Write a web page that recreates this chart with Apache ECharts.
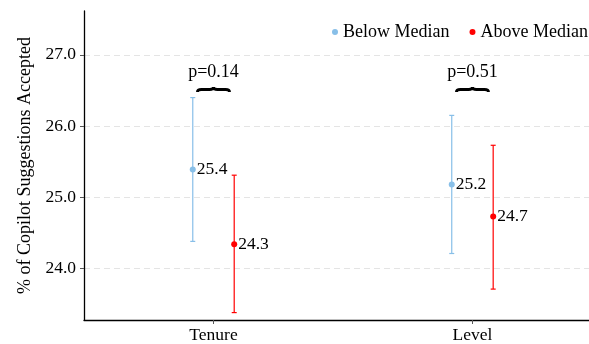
<!DOCTYPE html>
<html><head><meta charset="utf-8">
<script src="https://cdn.jsdelivr.net/npm/echarts@6/dist/echarts.min.js"></script>
<style>html,body{margin:0;padding:0;background:#fff}#c{width:589px;height:344px}</style>
</head><body><div id="c"></div>
<script>
const categories = ['Tenure', 'Level'];
const seriesNames = ['Below Median', 'Above Median'];
const belowMean = [25.39, 25.18];
const belowLow = [24.38, 24.21];
const belowHigh = [26.40, 26.15];
const aboveMean = [24.34, 24.73];
const aboveLow = [23.38, 23.71];
const aboveHigh = [25.31, 25.73];
const pLabels = ['p=0.14', 'p=0.51'];
const yTicks = [24, 25, 26, 27];

const FONT = '"Liberation Serif", "Times New Roman", serif';
const BLUE = '#88bfe8';
const RED = '#ff0000';
const DODGE = 0.08;

function errSeries(name, color, mean, low, high, off) {
  const data = categories.map((c, i) => [i + 1, mean[i], low[i], high[i]]);
  return {
    type: 'custom', name: name, itemStyle: { color: color },
    data: data,
    encode: { x: 0, y: [1, 2, 3] },
    renderItem: function (params, api) {
      const x = api.value(0) + off;
      const m = api.coord([x, api.value(1)]);
      const lo = api.coord([x, api.value(2)]);
      const hi = api.coord([x, api.value(3)]);
      const cap = 2.5;
      const st = { stroke: color, lineWidth: 1.2 };
      return {
        type: 'group', children: [
          { type: 'line', shape: { x1: m[0], y1: lo[1], x2: m[0], y2: hi[1] }, style: st },
          { type: 'line', shape: { x1: m[0] - cap, y1: lo[1], x2: m[0] + cap, y2: lo[1] }, style: st },
          { type: 'line', shape: { x1: m[0] - cap, y1: hi[1], x2: m[0] + cap, y2: hi[1] }, style: st },
          { type: 'circle', shape: { cx: m[0], cy: m[1], r: 3 }, style: { fill: color } },
          { type: 'text', x: m[0] + 4, y: m[1], style: { text: api.value(1).toFixed(1), font: '17.5px ' + FONT, fill: '#000', textVerticalAlign: 'middle', textAlign: 'left' } }
        ]
      };
    }
  };
}

const braceSeries = {
  type: 'custom', silent: true,
  data: categories.map((c, i) => [i + 1, i]),
  encode: { x: 0 },
  renderItem: function (params, api) {
    const i = api.value(1);
    const cx = api.coord([api.value(0), 26.0])[0];
    const x0 = api.coord([api.value(0) - 0.062, 26.0])[0];
    const x1 = api.coord([api.value(0) + 0.062, 26.0])[0];
    const yb = 92, h = 5;
    const ym = yb - h / 2;
    const q = 4;
    const path = 'M' + x0 + ' ' + yb +
      ' Q' + x0 + ' ' + ym + ' ' + (x0 + q) + ' ' + ym +
      ' L' + (cx - q) + ' ' + ym +
      ' Q' + cx + ' ' + ym + ' ' + cx + ' ' + (yb - h) +
      ' Q' + cx + ' ' + ym + ' ' + (cx + q) + ' ' + ym +
      ' L' + (x1 - q) + ' ' + ym +
      ' Q' + x1 + ' ' + ym + ' ' + x1 + ' ' + yb;
    return {
      type: 'group', children: [
        { type: 'path', shape: { pathData: path }, style: { stroke: '#000', lineWidth: 2.8, fill: null } },
        { type: 'text', x: cx, y: 72, style: { text: pLabels[i], font: '18px ' + FONT, fill: '#000', textAlign: 'center', textVerticalAlign: 'middle' } }
      ]
    };
  }
};

const chart = echarts.init(document.getElementById('c'), null, { renderer: 'canvas' });
chart.setOption({
  animation: false,
  backgroundColor: '#fff',
  grid: { left: 84, right: 0, top: 11, bottom: 23, containLabel: false },
  legend: {
    top: 18, left: 327, width: 320, orient: 'horizontal', itemWidth: 6, itemHeight: 6, itemGap: 20,
    textStyle: { fontFamily: FONT, fontSize: 18, color: '#000' },
    data: [
      { name: seriesNames[0], icon: 'circle', itemStyle: { color: BLUE } },
      { name: seriesNames[1], icon: 'circle', itemStyle: { color: RED } }
    ]
  },
  xAxis: {
    type: 'value', min: 0.5, max: 2.45,
    axisLine: { lineStyle: { color: '#000', width: 1.3 } },
    axisTick: { show: true, length: 4, lineStyle: { color: '#555' }, customValues: [1, 2] },
    axisLabel: { customValues: [1, 2], margin: 6, fontFamily: FONT, fontSize: 17.5, color: '#000',
      formatter: v => categories[Math.round(v) - 1] || '' },
    splitLine: { show: false }
  },
  yAxis: {
    type: 'value', min: 23.276, max: 27.616,
    name: '% of Copilot Suggestions Accepted', nameLocation: 'middle', nameGap: 50, nameRotate: 90,
    nameTextStyle: { fontFamily: FONT, fontSize: 18, color: '#000' },
    axisLine: { show: true, lineStyle: { color: '#000', width: 1.3 } },
    axisTick: { show: true, length: 4, lineStyle: { color: '#555' }, customValues: yTicks },
    axisLabel: { customValues: yTicks, margin: 8, fontFamily: FONT, fontSize: 17.5, color: '#000',
      formatter: v => v.toFixed(1) },
    splitLine: { show: true, lineStyle: { color: '#e4e4e4', type: [6, 4], width: 1 } }
  },
  series: [
    errSeries(seriesNames[0], BLUE, belowMean, belowLow, belowHigh, -DODGE),
    errSeries(seriesNames[1], RED, aboveMean, aboveLow, aboveHigh, DODGE),
    braceSeries
  ]
});
</script></body></html>
